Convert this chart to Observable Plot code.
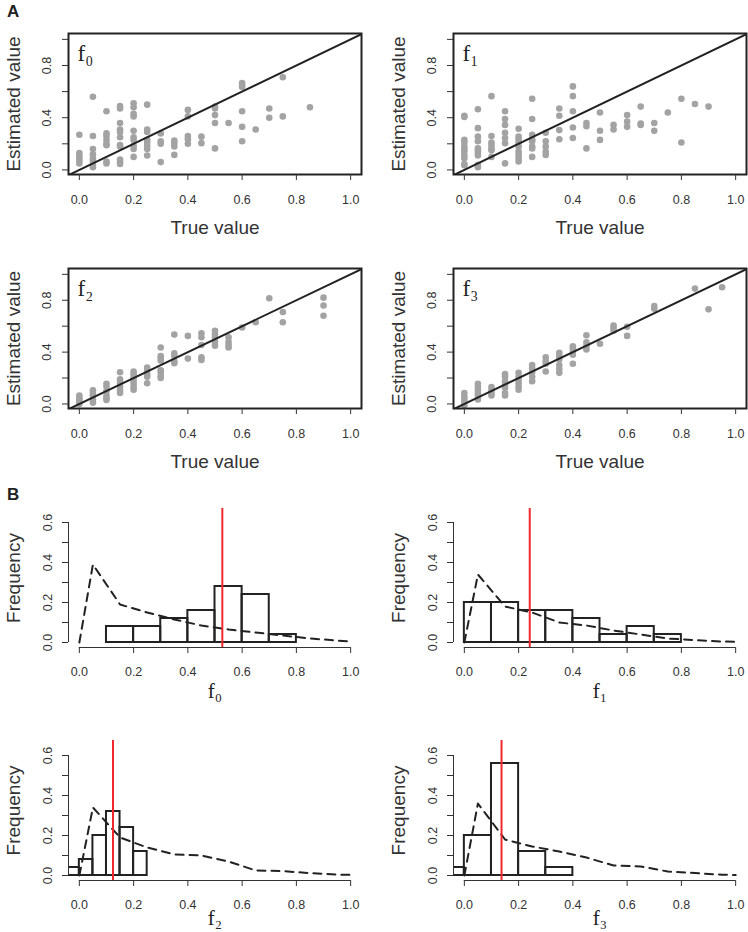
<!DOCTYPE html>
<html><head><meta charset="utf-8">
<script src="https://cdn.jsdelivr.net/npm/d3@7"></script>
<script src="https://cdn.jsdelivr.net/npm/@observablehq/plot@0.6"></script>
<style>
html,body{margin:0;padding:0;background:#fff;}
#fig{position:relative;width:748px;height:932px;overflow:hidden;font-family:"Liberation Sans",Arial,sans-serif;background:#fff;}
.pan{position:absolute;}
.pan svg{display:block;max-width:none;}
.tag{position:absolute;font-weight:bold;font-size:17px;line-height:1;color:#222;z-index:5;}
</style></head><body>
<div id="fig">
  <div class="tag" style="left:7px;top:3px;">A</div>
  <div class="tag" style="left:7px;top:486px;">B</div>
</div>
<script>
// ---------- data ----------
const panelNames = ["f\u2080", "f\u2081", "f\u2082", "f\u2083"];
const trueValues = [0,0.05,0.1,0.15,0.2,0.25,0.3,0.35,0.4,0.45,0.5,0.55,0.6,0.65,0.7,0.75,0.8,0.85,0.9,0.95];

const estF0 = [
  [0.27,0.13,0.11,0.09,0.07,0.05],
  [0.56,0.26,0.16,0.12,0.09,0.07,0.04,0.02],
  [0.45,0.28,0.26,0.23,0.20,0.19,0.065,0.05],
  [0.49,0.47,0.36,0.31,0.29,0.25,0.19,0.18,0.08,0.06,0.045],
  [0.51,0.48,0.43,0.41,0.30,0.25,0.23,0.185,0.16,0.10],
  [0.50,0.31,0.29,0.23,0.21,0.185,0.16,0.11],
  [0.28,0.22,0.20,0.06],
  [0.225,0.205,0.18,0.115],
  [0.46,0.41,0.26,0.235,0.20],
  [0.255,0.205],
  [0.485,0.47,0.42,0.36,0.165],
  [0.36],
  [0.665,0.65,0.635,0.45,0.33,0.22],
  [0.31],
  [0.47,0.40],
  [0.71,0.41],
  [],
  [0.48],
  [],
  []
];
const estF1 = [
  [0.415,0.405,0.23,0.21,0.18,0.16,0.14,0.11,0.09,0.045,0.035],
  [0.465,0.32,0.255,0.22,0.165,0.15,0.13,0.11,0.04,0.02],
  [0.565,0.26,0.21,0.19,0.165,0.15,0.10],
  [0.45,0.39,0.345,0.285,0.245,0.205,0.05],
  [0.315,0.255,0.235,0.21,0.18,0.14,0.115,0.09,0.065],
  [0.545,0.39,0.27,0.235,0.22,0.18,0.165,0.10],
  [0.285,0.22,0.18,0.14,0.115],
  [0.47,0.415,0.305,0.235],
  [0.64,0.565,0.45,0.325,0.245],
  [0.36,0.335,0.165],
  [0.44,0.30,0.23],
  [0.345,0.31],
  [0.42,0.37,0.33],
  [0.485,0.355,0.345],
  [0.36,0.30],
  [0.44],
  [0.545,0.21],
  [0.505],
  [0.485],
  []
];
const estF2 = [
  [0.065,0.045,0.03,0.015,0.0],
  [0.105,0.085,0.065,0.035,0.01],
  [0.155,0.135,0.10,0.065,0.045,0.03],
  [0.245,0.19,0.165,0.135,0.105,0.085],
  [0.25,0.23,0.205,0.18,0.155,0.13,0.11],
  [0.28,0.26,0.23,0.21,0.16],
  [0.435,0.37,0.355,0.335,0.26,0.24,0.215,0.20],
  [0.535,0.39,0.37,0.33,0.315],
  [0.525,0.35],
  [0.545,0.515,0.455,0.36,0.34],
  [0.565,0.54,0.515,0.48,0.45],
  [0.515,0.48,0.455,0.435],
  [0.59],
  [0.63],
  [0.815],
  [0.71,0.63],
  [],
  [],
  [0.82,0.76,0.68],
  []
];
const estF3 = [
  [0.085,0.055,0.035,0.015,-0.01],
  [0.155,0.13,0.11,0.085,0.065,0.035],
  [0.13,0.105,0.085,0.065],
  [0.23,0.21,0.175,0.15,0.125,0.085,0.065],
  [0.24,0.21,0.185,0.16,0.135,0.11],
  [0.30,0.275,0.245,0.21,0.175],
  [0.36,0.33,0.31,0.25],
  [0.395,0.37,0.345,0.30,0.27,0.24],
  [0.445,0.43,0.405,0.38,0.31],
  [0.53,0.475,0.445,0.42],
  [0.465],
  [0.605,0.585,0.565],
  [0.595,0.525],
  [],
  [0.755,0.735],
  [],
  [],
  [0.89],
  [0.73],
  [0.90]
];

// histograms (B)
const histLowerF0 = [0.1,0.2,0.3,0.4,0.5,0.6,0.7];
const histFreqF0  = [0.08,0.08,0.12,0.16,0.28,0.24,0.04];
const histLowerF1 = [0,0.1,0.2,0.3,0.4,0.5,0.6,0.7];
const histFreqF1  = [0.2,0.2,0.16,0.16,0.12,0.04,0.08,0.04];
const histLowerF2 = [-0.05,0,0.05,0.1,0.15,0.2];
const histFreqF2  = [0.04,0.08,0.2,0.32,0.24,0.12];
const histLowerF3 = [-0.1,0,0.1,0.2,0.3];
const histFreqF3  = [0.04,0.2,0.56,0.12,0.04];
const histBinWidth = [0.1,0.1,0.05,0.1];

const curveX  = [0,0.05,0.15,0.25,0.35,0.45,0.55,0.65,0.75,0.85,0.95,1.0];
const curveF0 = [0,0.39,0.19,0.15,0.115,0.085,0.065,0.05,0.035,0.02,0.01,0.005];
const curveF1 = [0,0.34,0.18,0.15,0.10,0.085,0.06,0.04,0.02,0.012,0.005,0.003];
const curveF2 = [0,0.34,0.19,0.14,0.105,0.10,0.07,0.025,0.022,0.012,0.005,0.003];
const curveF3 = [0,0.36,0.18,0.145,0.12,0.09,0.05,0.045,0.02,0.012,0.004,0.002];

const medianValues = [0.527,0.241,0.124,0.137];

const xTicks = [0,0.2,0.4,0.6,0.8,1.0];
const scatterYTicks = [0,0.2,0.4,0.6,0.8,1.0];
const scatterYLabels = [0,0.4,0.8];
const histYTicks = [0,0.1,0.2,0.3,0.4,0.5,0.6];
const histYLabels = [0,0.2,0.4,0.6];

// ---------- drawing ----------
const fig = document.getElementById("fig");
const fmt = d3.format(".1f");
const xDomain = [-0.04, 1.04];
const sans = '"Liberation Sans", Arial, sans-serif';
const serif = '"Liberation Serif", "DejaVu Serif", serif';
const baseStyle = {background: "transparent", fontFamily: sans, fontSize: "12.5px", color: "#333", overflow: "visible"};

function place(svg, left, top, w, h) {
  const d = document.createElement("div");
  d.className = "pan";
  d.style.left = left + "px"; d.style.top = top + "px";
  d.style.width = w + "px"; d.style.height = h + "px";
  d.appendChild(svg);
  fig.appendChild(d);
}

function scatter(i, est, L, T, box) {
  const W = 374, H = 245;
  const pts = trueValues.flatMap((t, j) => est[j].map(e => ({t, e})));
  const svg = Plot.plot({
    width: W, height: H,
    marginLeft: box[0] - L, marginTop: box[1] - T,
    marginRight: L + W - box[2], marginBottom: T + H - box[3],
    x: {domain: xDomain}, y: {domain: [-0.035, 1.045]},
    style: baseStyle,
    marks: [
      Plot.dot(pts, {x: "t", y: "e", r: 3.3, fill: "#a3a3a3"}),
      Plot.line(xDomain.map(v => [v, v]), {stroke: "#222", strokeWidth: 2, clip: true}),
      Plot.frame({stroke: "#222", strokeWidth: 2}),
      Plot.axisX({ticks: xTicks, tickSize: 6, tickPadding: 15, tickFormat: fmt, label: null}),
      Plot.axisY({ticks: scatterYTicks, tickSize: 6, tickFormat: () => "", label: null}),
      Plot.text(scatterYLabels, {y: d => d, text: d => fmt(d), frameAnchor: "left", dx: -22, rotate: -90, textAnchor: "middle", lineAnchor: "middle"}),
      Plot.text(["True value"], {text: d => d, frameAnchor: "bottom", dy: 59, lineAnchor: "bottom", textAnchor: "middle", fontSize: 19}),
      Plot.text(["Estimated value"], {text: d => d, frameAnchor: "left", dx: -55, rotate: -90, textAnchor: "middle", lineAnchor: "middle", fontSize: 19}),
      Plot.text([panelNames[i]], {text: d => d, frameAnchor: "top-left", dx: 9, dy: 27, textAnchor: "start", lineAnchor: "bottom", fontSize: 23, fontFamily: serif, fill: "#222"})
    ]
  });
  place(svg, L, T, W, H);
}

function hist(i, lower, freq, curve, L, T, box, yDom, titleDy) {
  const W = 374, H = 220;
  const bars = freq.map((f, j) => ({x1: lower[j], x2: lower[j] + histBinWidth[i], f}));
  const pts = curveX.map((x, j) => ({x, y: curve[j]}));
  const svg = Plot.plot({
    width: W, height: H,
    marginLeft: box[0] - L, marginTop: box[1] - T,
    marginRight: L + W - box[2], marginBottom: T + H - box[3],
    x: {domain: xDomain}, y: {domain: yDom},
    style: baseStyle,
    marks: [
      Plot.rect(bars, {x1: "x1", x2: "x2", y1: 0, y2: "f", fill: "none", stroke: "#222", strokeWidth: 2, clip: true}),
      Plot.line(pts, {x: "x", y: "y", stroke: "#222", strokeWidth: 2, strokeDasharray: "8,6"}),
      Plot.ruleX([medianValues[i]], {stroke: "#f0282d", strokeWidth: 2}),
      Plot.ruleX([xDomain[0]], {y1: histYTicks[0], y2: histYTicks[histYTicks.length - 1], stroke: "#333"}),
      Plot.ruleY([yDom[0]], {x1: xTicks[0], x2: xTicks[xTicks.length - 1], stroke: "#333"}),
      Plot.axisX({ticks: xTicks, tickSize: 6, tickPadding: 14, tickFormat: fmt, label: null}),
      Plot.axisY({ticks: histYTicks, tickSize: 6, tickFormat: () => "", label: null}),
      Plot.text(histYLabels, {y: d => d, text: d => fmt(d), frameAnchor: "left", dx: -21, rotate: -90, textAnchor: "middle", lineAnchor: "middle"}),
      Plot.text([panelNames[i]], {text: d => d, frameAnchor: "bottom", dy: titleDy, textAnchor: "middle", lineAnchor: "bottom", fontSize: 21, fontFamily: serif, fill: "#222"}),
      Plot.text(["Frequency"], {text: d => d, frameAnchor: "left", dx: -55, rotate: -90, textAnchor: "middle", lineAnchor: "middle", fontSize: 19})
    ]
  });
  place(svg, L, T, W, H);
}

scatter(0, estF0, 0,   0,   [68, 33, 361, 174]);
scatter(1, estF1, 374, 0,   [453, 33, 746, 174]);
scatter(2, estF2, 0,   245, [68, 268, 361, 408]);
scatter(3, estF3, 374, 245, [453, 268, 746, 408]);

hist(0, histLowerF0, histFreqF0, curveF0, 0,   490, [68, 508, 361, 647], [-0.025, 0.67], 50);
hist(1, histLowerF1, histFreqF1, curveF1, 374, 490, [453, 508, 746, 647], [-0.025, 0.67], 50);
hist(2, histLowerF2, histFreqF2, curveF2, 0,   712, [68, 740, 361, 880], [-0.025, 0.675], 44);
hist(3, histLowerF3, histFreqF3, curveF3, 374, 712, [453, 740, 746, 880], [-0.025, 0.675], 44);
</script>
</body></html>
